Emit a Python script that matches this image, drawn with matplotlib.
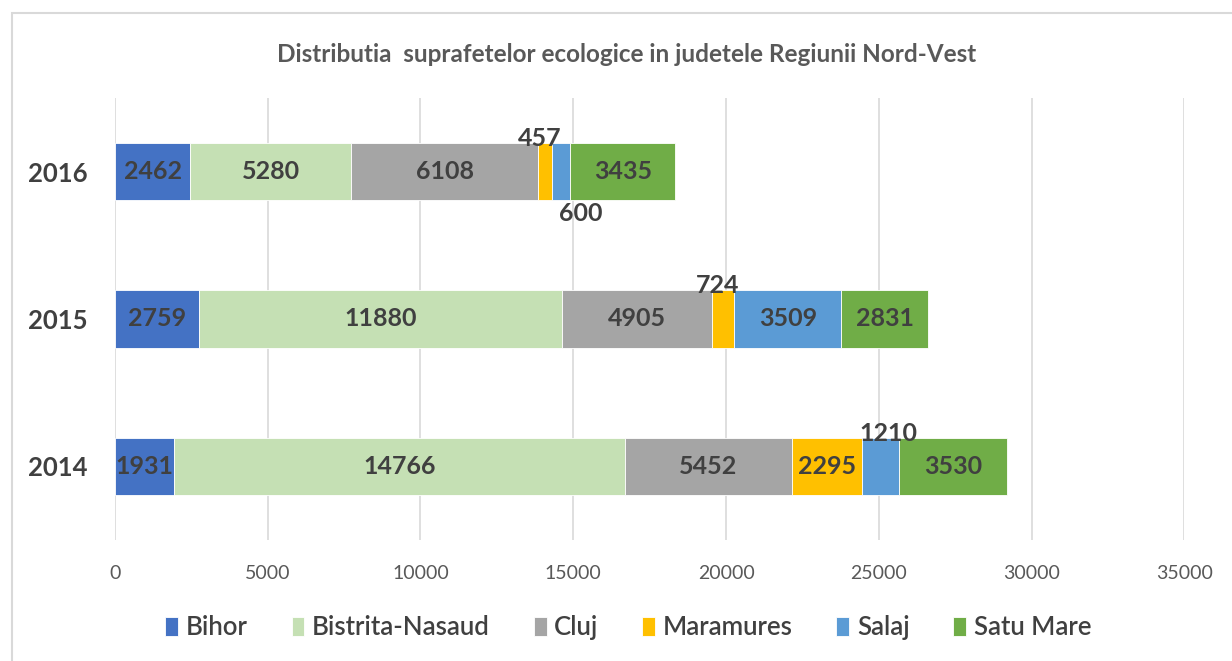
import matplotlib.pyplot as plt
from matplotlib.patches import Rectangle
import numpy as np

plt.rcParams['font.family'] = ['Lato', 'DejaVu Sans']

years = ['2014', '2015', '2016']
counties = ['Bihor', 'Bistrita-Nasaud', 'Cluj', 'Maramures', 'Salaj', 'Satu Mare']
bihor = [1931, 2759, 2462]
bistrita = [14766, 11880, 5280]
cluj = [5452, 4905, 6108]
maramures = [2295, 724, 457]
salaj = [1210, 3509, 600]
satu_mare = [3530, 2831, 3435]
colors = ['#4472C4', '#C5E0B4', '#A5A5A5', '#FFC000', '#5B9BD5', '#70AD47']

series = [bihor, bistrita, cluj, maramures, salaj, satu_mare]

fig = plt.figure(figsize=(12.32, 6.61), dpi=100)
ax = fig.add_axes([0.0933, 0.183, 0.868, 0.669])

# chart border
fig.patches.append(Rectangle((12/1232, -0.1), 1.2, (661-13)/661 + 0.1, transform=fig.transFigure,
                             fill=False, edgecolor='#D9D9D9', linewidth=1.5))

index = np.arange(len(years))
height = 0.39
left = np.zeros(len(years))
txtcol = '#404040'
lblsize = 18
for i, (vals, col, name) in enumerate(zip(series, colors, counties)):
    bars = ax.barh(index, vals, height, left=left, color=col, label=name,
                   edgecolor='white', linewidth=0.6, zorder=3)
    for j, (b, v) in enumerate(zip(bars, vals)):
        cx = left[j] + v / 2.
        if v < 1000:
            # small segments: label outside, like the original
            if name == 'Salaj':
                ax.annotate('%d' % v, (cx, index[j] - height / 2), xytext=(14, -1),
                            textcoords='offset points', ha='center', va='top',
                            fontsize=lblsize, fontweight='bold', color=txtcol, zorder=4)
            else:
                ax.annotate('%d' % v, (cx, index[j] + height / 2), xytext=(-4, -5),
                            textcoords='offset points', ha='center', va='bottom',
                            fontsize=lblsize, fontweight='bold', color=txtcol, zorder=4)
        elif name == 'Salaj' and v < 2000:
            ax.annotate('%d' % v, (cx, index[j] + height / 2), xytext=(6, -5),
                        textcoords='offset points', ha='center', va='bottom',
                        fontsize=lblsize, fontweight='bold', color=txtcol, zorder=4)
        else:
            ax.text(cx, index[j], '%d' % v, ha='center', va='center',
                    fontsize=lblsize, fontweight='bold', color=txtcol, zorder=4)
    left = left + np.array(vals)

ax.set_xlim(0, 35000)
ax.set_ylim(-0.5, 2.5)
ax.set_xticks(np.arange(0, 35001, 5000))
ax.set_yticks(index)
ax.set_yticklabels(years, fontsize=18.5, fontweight='bold', color='#404040')
ax.tick_params(axis='x', labelsize=14, colors='#595959', length=0, pad=18)
ax.tick_params(axis='y', length=0, pad=20)
ax.grid(axis='x', color='#D9D9D9', linewidth=1.2, zorder=0)
for s in ax.spines.values():
    s.set_visible(False)

fig.suptitle('Distributia  suprafetelor ecologice in judetele Regiunii Nord-Vest',
             x=0.509, y=0.935, fontsize=17.5, fontweight='bold', color='#595959')

ax.legend(loc='center', bbox_to_anchor=(0.51, 0.05), bbox_transform=fig.transFigure,
          ncol=6, frameon=False, prop={'size': 18.5, 'weight': 'semibold'},
          handlelength=0.5, handleheight=0.75, handletextpad=0.3, columnspacing=1.7,
          labelcolor='#404040')

fig.savefig('out.png', dpi=100)
